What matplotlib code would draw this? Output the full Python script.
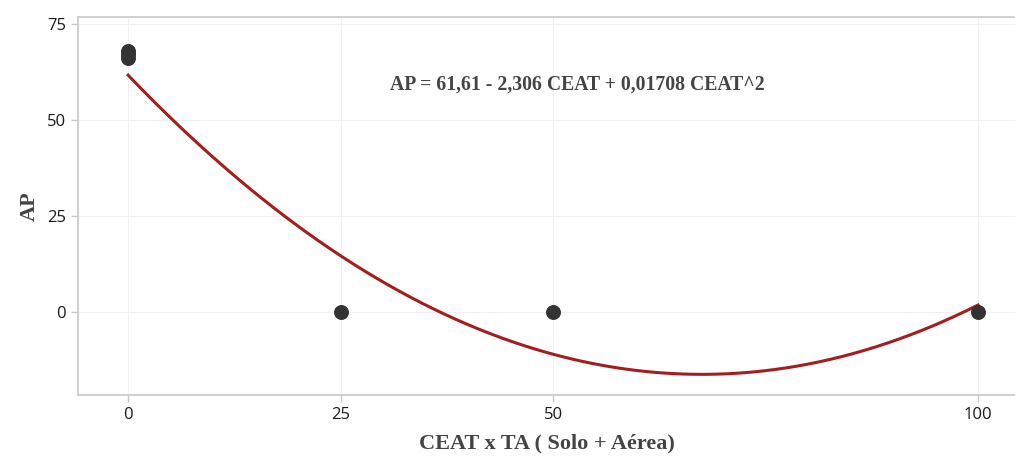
import numpy as np
import matplotlib.pyplot as plt

# observed values
ceat = [0, 0, 0, 25, 50, 100]
ap = [68, 67, 66, 0, 0, 0]

# quadratic fit coefficients
b0, b1, b2 = 61.61, -2.306, 0.01708

x_ticks = [0, 25, 50, 100]
y_ticks = [0, 25, 50, 75]

fig = plt.figure(figsize=(10.15, 4.59), dpi=100)
ax = fig.add_axes([0.0768, 0.1394, 0.9232, 0.824])

xs = np.linspace(0, 100, 300)
ax.plot(xs, b0 + b1 * xs + b2 * xs**2, color="#a31f1f", lw=2.2, zorder=3)
ax.scatter(ceat, ap, s=95, color="#333333", zorder=4)

ax.set_xlim(-5.9, 104.35)
ax.set_ylim(-21.6, 76.8)
ax.set_xticks(x_ticks)
ax.set_yticks(y_ticks)

ax.grid(True, color="#f0f0f0", lw=0.8)
ax.set_axisbelow(True)
for side in ["left", "bottom", "top"]:
    ax.spines[side].set_color("#c8c8c8")
    ax.spines[side].set_linewidth(1.2)
ax.spines["right"].set_visible(False)
ax.tick_params(colors="#c8c8c8", labelcolor="#1a1a1a", labelsize=12,
               length=5, width=1, labelfontfamily="Open Sans")

serif = dict(family="Liberation Serif", weight="bold", color="#444444")
ax.set_xlabel("CEAT x TA ( Solo + Aérea)", fontsize=16, labelpad=8, **serif)
ax.set_ylabel("AP", fontsize=16, labelpad=5, **serif)
ax.text(0.5326, 0.82, "AP = 61,61 - 2,306 CEAT + 0,01708 CEAT^2",
        transform=ax.transAxes, ha="center", va="center", fontsize=14.2, **serif)

fig.savefig("out.png", dpi=100)
